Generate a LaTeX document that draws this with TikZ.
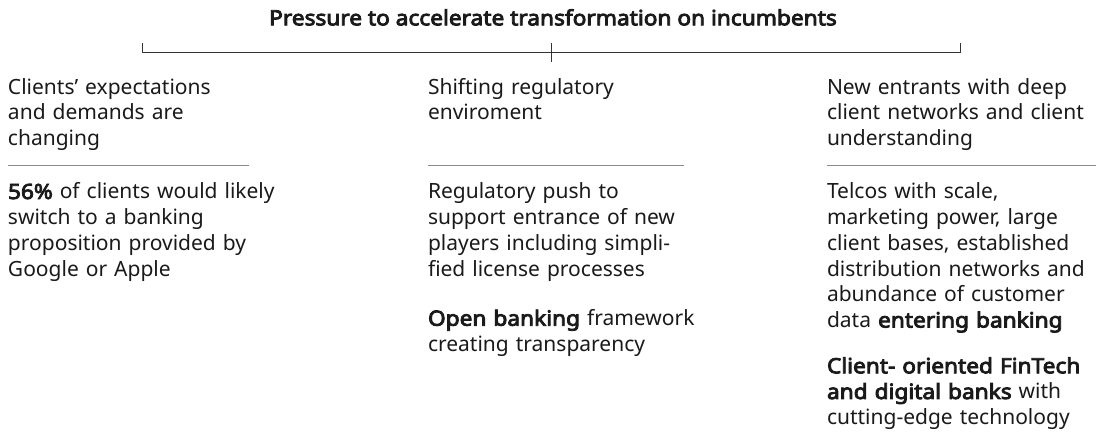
\documentclass[tikz,border=0pt]{standalone}
\usepackage{fontspec}
\setmainfont{Noto Sans}[BoldFont={Noto Sans},BoldFeatures={FakeBold=4,FakeStretch=1.08}]
\definecolor{ink}{HTML}{1A1A1A}
\definecolor{rulegray}{HTML}{8A8A8A}
\definecolor{brack}{HTML}{333333}
\begin{document}
\begin{tikzpicture}[x=1pt,y=-1pt,
  every node/.style={inner sep=0pt,outer sep=0pt,text=ink},
  body/.style={anchor=base west,text width=300pt,align=left,
    font=\fontsize{21}{25.7}\selectfont},
  titletext/.style={anchor=base,font=\fontsize{21}{25}\selectfont\bfseries},
  divider/.style={draw=rulegray,line width=1.3pt},
  bracket/.style={draw=brack,line width=1pt}]
\useasboundingbox (0,0) rectangle (1096,435);

% heading and the bracket that spans the three columns
\node[titletext] (title) at (553,25.3) {Pressure to accelerate transformation on incumbents};
\coordinate (bl) at (142.7,52.3);
\coordinate (br) at (960.3,52.3);
\coordinate (bm) at (551.7,52.3);
\draw[bracket] ([yshift=9.4pt]bl) -- (bl) -- (br) -- ([yshift=9.4pt]br);
\draw[bracket] ([yshift=-9.6pt]bm) -- ([yshift=9.4pt]bm);

% column headings
\node[body] (h1) at (8,94.3) {Clients’ expectations\\and demands are\\changing};
\node[body] (h2) at (428,94.3) {Shifting regulatory\\enviroment};
\node[body] (h3) at (827,94.3) {New entrants with deep\\client networks and client\\understanding};

% dividers under the headings
\draw[divider] (8,165.7) coordinate (d1a) -- (249,165.7) coordinate (d1b);
\draw[divider] (428,165.7) coordinate (d2a) -- (683.5,165.7) coordinate (d2b);
\draw[divider] (827,165.7) coordinate (d3a) -- (1096,165.7) coordinate (d3b);

% column bodies
\node[body] (b1) at (8,199) {\textbf{56\%} of clients would likely\\switch to a banking\\proposition provided by\\Google or Apple};
\node[body] (b2) at (428,199) {Regulatory push to\\support entrance of new\\players including simpli-\\fied license processes};
\node[body] (b2b) at (428,325.7) {\textbf{Open banking} framework\\creating transparency};
\node[body] (b3) at (827,199) {Telcos with scale,\\marketing power, large\\client bases, established\\distribution networks and\\abundance of customer\\data \textbf{entering banking}};
\node[body] (b3b) at (827,373.3) {\textbf{Client- oriented FinTech}\\\textbf{and digital banks} with\\cutting-edge technology};
\end{tikzpicture}
\end{document}
